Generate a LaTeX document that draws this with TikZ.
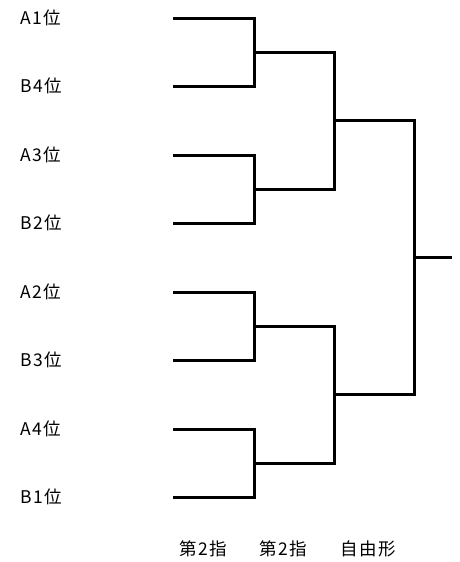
\documentclass[tikz,border=0pt]{standalone}
\usepackage{fontspec}
\newfontfamily\jpfont[LetterSpace=8]{Noto Sans CJK JP}
\usetikzlibrary{calc}

\begin{document}
\begin{tikzpicture}[x=1pt,y=-1pt,line width=3pt,
    seed/.style={anchor=west,inner sep=0pt,font=\jpfont\fontsize{17.5}{18}\selectfont},
    round/.style={inner sep=0pt,font=\jpfont\fontsize{17.5}{18}\selectfont}]
      \useasboundingbox (0,0) rectangle (459,562);
      % seeds
      \node[seed] (a1) at (19,18) {A1位};
      \node[seed] (b4) at (19,86) {B4位};
      \node[seed] (a3) at (19,155) {A3位};
      \node[seed] (b2) at (19,223) {B2位};
      \node[seed] (a2) at (19,292) {A2位};
      \node[seed] (b3) at (19,360) {B3位};
      \node[seed] (a4) at (19,429) {A4位};
      \node[seed] (b1) at (19,497) {B1位};
      \coordinate (p1) at (173,18.5);
      \coordinate (p2) at (173,86.5);
      \coordinate (p3) at (173,155);
      \coordinate (p4) at (173,223);
      \coordinate (p5) at (173,292);
      \coordinate (p6) at (173,360);
      \coordinate (p7) at (173,429);
      \coordinate (p8) at (173,497);
      % matches
      \coordinate (m1) at (254,52);
      \coordinate (m2) at (254,189);
      \coordinate (m3) at (254,326);
      \coordinate (m4) at (254,463);
      \coordinate (s1) at (334,120.5);
      \coordinate (s2) at (334,394.5);
      \coordinate (f) at (414,257.5);
      \coordinate (w) at (452,257.5);
      \draw (p1) -| (m1) |- (p2);
      \draw (p3) -| (m2) |- (p4);
      \draw (p5) -| (m3) |- (p6);
      \draw (p7) -| (m4) |- (p8);
      \draw (m1) -| (s1) |- (m2);
      \draw (m3) -| (s2) |- (m4);
      \draw (s1) -| (f) |- (s2);
      \draw (f) -- (w);
      % rounds
      \node[round] (r1) at (203,549) {第2指};
      \node[round] (r2) at (283,549) {第2指};
      \node[round] (r3) at (368,549) {自由形};
\end{tikzpicture}
\end{document}
